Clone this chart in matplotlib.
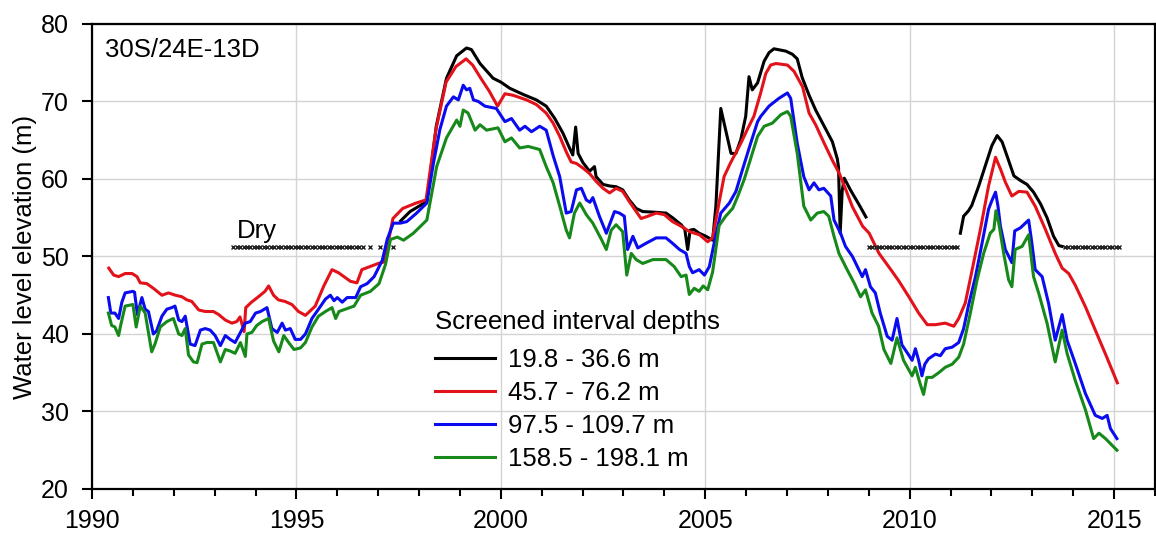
import matplotlib
matplotlib.use('Agg')
from matplotlib import pyplot as plt
from matplotlib.ticker import MultipleLocator

plt.rcParams['font.family'] = ['Liberation Sans', 'DejaVu Sans']

# 45.7 - 76.2 m
red_years = [1990.41, 1990.53, 1990.65, 1990.81, 1990.98, 1991.10, 1991.18, 1991.34, 1991.50, 1991.71,
             1991.87, 1992.04, 1992.20, 1992.32, 1992.44, 1992.61, 1992.77, 1992.97, 1993.10, 1993.26,
             1993.42, 1993.54, 1993.62, 1993.72, 1993.76, 1993.90, 1994.07, 1994.23, 1994.32, 1994.44,
             1994.56, 1994.72, 1994.89, 1995.05, 1995.22, 1995.46, 1995.67, 1995.87, 1996.03, 1996.32,
             1996.48, 1996.60, 1996.80, 1997.00, 1997.15, 1997.36, 1997.60, 1997.93, 1998.17, 1998.41,
             1998.66, 1998.90, 1999.15, 1999.31, 1999.51, 1999.72, 1999.92, 2000.10, 2000.30, 2000.63,
             2000.87, 2001.11, 2001.28, 2001.44, 2001.60, 2001.72, 2001.85, 2002.01, 2002.17, 2002.33,
             2002.50, 2002.66, 2002.82, 2002.98, 2003.14, 2003.31, 2003.43, 2003.60, 2003.80, 2004.00,
             2004.20, 2004.41, 2004.62, 2004.86, 2005.06, 2005.18, 2005.34, 2005.46, 2005.62, 2005.87,
             2006.03, 2006.19, 2006.35, 2006.48, 2006.60, 2006.73, 2007.01, 2007.17, 2007.38, 2007.54,
             2007.70, 2007.91, 2008.11, 2008.28, 2008.44, 2008.60, 2008.85, 2009.01, 2009.25, 2009.54,
             2009.74, 2009.98, 2010.22, 2010.43, 2010.63, 2010.87, 2011.08, 2011.20, 2011.36, 2011.53,
             2011.73, 2011.93, 2012.10, 2012.22, 2012.34, 2012.50, 2012.67, 2012.87, 2013.07, 2013.32,
             2013.56, 2013.73, 2013.89, 2014.05, 2014.30, 2014.54, 2014.79, 2015.08]
red_vals = [48.5, 47.6, 47.4, 47.8, 47.8, 47.4, 46.6, 46.5, 45.9, 45.0,
            45.3, 45.0, 44.8, 44.4, 44.2, 43.1, 42.9, 42.9, 42.5, 41.8,
            41.4, 41.6, 42.2, 40.3, 43.4, 44.1, 44.8, 45.5, 46.2, 45.0,
            44.4, 44.2, 43.8, 42.9, 42.4, 43.6, 46.2, 48.3, 47.9, 46.8,
            46.6, 48.3, 48.7, 49.1, 49.3, 54.9, 56.2, 56.9, 57.3, 66.3,
            72.5, 74.5, 75.5, 74.7, 73.0, 71.3, 69.4, 71.0, 70.8, 70.2,
            69.6, 68.5, 67.2, 65.5, 63.5, 62.2, 62.0, 61.4, 60.7, 59.7,
            58.8, 58.2, 58.8, 58.4, 57.1, 55.8, 54.9, 55.2, 55.6, 55.4,
            54.5, 53.9, 53.2, 52.8, 51.9, 52.4, 57.0, 60.3, 62.1, 64.6,
            66.4, 68.1, 71.0, 73.6, 74.7, 74.9, 74.7, 73.9, 71.9, 68.5,
            67.0, 64.6, 62.4, 60.7, 58.6, 56.4, 53.9, 53.0, 50.4, 48.3,
            46.8, 44.8, 42.7, 41.2, 41.2, 41.4, 41.0, 42.0, 44.0, 48.3,
            53.5, 59.1, 62.8, 61.3, 59.6, 57.8, 58.4, 58.3, 56.5, 53.5,
            50.4, 48.5, 47.8, 46.3, 43.5, 40.5, 37.4, 33.7]

# 97.5 - 109.7 m
blue_years = [1990.40, 1990.46, 1990.56, 1990.65, 1990.73, 1990.81, 1991.00, 1991.04, 1991.11, 1991.22,
              1991.30, 1991.38, 1991.50, 1991.58, 1991.71, 1991.83, 1991.95, 1992.03, 1992.12, 1992.20,
              1992.28, 1992.40, 1992.52, 1992.65, 1992.77, 1992.89, 1993.01, 1993.14, 1993.26, 1993.38,
              1993.50, 1993.63, 1993.75, 1993.87, 1994.00, 1994.12, 1994.28, 1994.40, 1994.53, 1994.65,
              1994.73, 1994.85, 1994.97, 1995.10, 1995.22, 1995.38, 1995.54, 1995.71, 1995.83, 1995.92,
              1996.00, 1996.12, 1996.24, 1996.45, 1996.57, 1996.73, 1996.90, 1997.10, 1997.22, 1997.37,
              1997.54, 1997.70, 1997.94, 1998.19, 1998.35, 1998.51, 1998.67, 1998.84, 1998.96, 1999.08,
              1999.16, 1999.24, 1999.33, 1999.45, 1999.61, 1999.89, 2000.10, 2000.26, 2000.46, 2000.59,
              2000.75, 2000.95, 2001.11, 2001.28, 2001.44, 2001.60, 2001.72, 2001.85, 2001.97, 2002.09,
              2002.18, 2002.25, 2002.41, 2002.58, 2002.78, 2002.90, 2003.02, 2003.10, 2003.23, 2003.35,
              2003.55, 2003.80, 2004.04, 2004.20, 2004.37, 2004.53, 2004.61, 2004.69, 2004.85, 2004.98,
              2005.10, 2005.26, 2005.38, 2005.59, 2005.75, 2005.91, 2006.11, 2006.28, 2006.36, 2006.56,
              2006.80, 2007.01, 2007.09, 2007.25, 2007.41, 2007.54, 2007.66, 2007.78, 2007.90, 2008.07,
              2008.15, 2008.31, 2008.43, 2008.60, 2008.72, 2008.84, 2008.92, 2009.04, 2009.16, 2009.28,
              2009.45, 2009.57, 2009.69, 2009.81, 2009.95, 2010.06, 2010.14, 2010.22, 2010.30, 2010.37,
              2010.46, 2010.63, 2010.75, 2010.87, 2011.04, 2011.20, 2011.32, 2011.44, 2011.61, 2011.77,
              2011.93, 2012.01, 2012.10, 2012.16, 2012.22, 2012.34, 2012.50, 2012.57, 2012.71, 2012.91,
              2012.99, 2013.07, 2013.24, 2013.40, 2013.56, 2013.73, 2013.85, 2014.05, 2014.30, 2014.54,
              2014.71, 2014.83, 2014.91, 2015.07]
blue_vals = [44.7, 42.7, 42.7, 42.0, 44.1, 45.3, 45.5, 45.4, 42.5, 44.7,
             43.2, 42.9, 40.0, 40.4, 42.3, 43.2, 43.4, 43.6, 41.8, 41.6,
             42.3, 38.7, 38.5, 40.5, 40.7, 40.5, 39.8, 38.5, 39.8, 39.3,
             38.9, 40.2, 41.4, 41.6, 42.7, 42.9, 43.4, 40.7, 40.2, 41.4,
             40.5, 40.7, 39.3, 39.3, 40.0, 42.0, 43.2, 44.5, 45.0, 44.3,
             44.7, 44.1, 44.7, 44.7, 46.1, 46.5, 47.4, 49.5, 52.2, 54.3,
             54.3, 54.5, 55.6, 56.9, 62.0, 66.4, 69.4, 70.6, 70.2, 72.1,
             71.5, 71.7, 70.2, 70.0, 69.4, 69.1, 67.4, 67.8, 66.3, 66.8,
             66.1, 66.8, 66.3, 63.0, 60.3, 55.6, 55.8, 58.6, 58.8, 57.3,
             57.0, 57.6, 55.2, 53.0, 55.8, 55.6, 55.2, 50.9, 52.6, 51.1,
             51.7, 52.4, 52.4, 51.7, 50.9, 50.4, 48.7, 47.9, 48.3, 47.6,
             48.7, 52.8, 55.6, 56.9, 58.4, 61.2, 64.6, 67.4, 68.1, 69.4,
             70.4, 71.1, 70.4, 64.6, 60.3, 58.6, 59.5, 58.6, 58.8, 57.8,
             54.7, 53.0, 51.3, 50.0, 48.7, 47.4, 48.3, 46.1, 45.3, 42.7,
             39.7, 39.2, 42.0, 38.6, 37.5, 36.6, 38.1, 36.6, 34.6, 36.1,
             36.8, 37.4, 37.2, 38.1, 38.3, 38.9, 40.7, 43.7, 47.4, 51.7,
             56.1, 57.2, 58.3, 56.5, 53.9, 50.9, 49.2, 53.3, 53.7, 54.7,
             51.7, 48.3, 47.4, 43.9, 39.2, 42.5, 39.2, 36.2, 32.3, 29.5,
             29.1, 29.5, 27.8, 26.5]

# 158.5 - 198.1 m
green_years = [1990.40, 1990.48, 1990.56, 1990.65, 1990.70, 1990.81, 1991.00, 1991.08, 1991.18, 1991.30,
               1991.46, 1991.54, 1991.67, 1991.83, 1991.99, 1992.12, 1992.20, 1992.28, 1992.36, 1992.48,
               1992.57, 1992.69, 1992.81, 1992.97, 1993.14, 1993.26, 1993.38, 1993.50, 1993.63, 1993.75,
               1993.79, 1993.91, 1994.03, 1994.16, 1994.32, 1994.44, 1994.57, 1994.69, 1994.81, 1994.94,
               1995.10, 1995.22, 1995.38, 1995.54, 1995.71, 1995.87, 1995.96, 1996.04, 1996.20, 1996.41,
               1996.57, 1996.81, 1997.02, 1997.18, 1997.30, 1997.47, 1997.62, 1997.86, 1998.19, 1998.43,
               1998.67, 1998.92, 1999.00, 1999.08, 1999.20, 1999.37, 1999.49, 1999.65, 1999.93, 2000.10,
               2000.26, 2000.46, 2000.67, 2000.95, 2001.11, 2001.28, 2001.44, 2001.60, 2001.68, 2001.80,
               2001.93, 2002.09, 2002.25, 2002.46, 2002.58, 2002.70, 2002.82, 2002.98, 2003.08, 2003.19,
               2003.31, 2003.47, 2003.72, 2004.04, 2004.24, 2004.41, 2004.53, 2004.61, 2004.73, 2004.85,
               2004.95, 2005.06, 2005.18, 2005.34, 2005.50, 2005.67, 2005.79, 2005.95, 2006.15, 2006.28,
               2006.44, 2006.64, 2006.85, 2007.01, 2007.09, 2007.25, 2007.41, 2007.58, 2007.74, 2007.90,
               2008.02, 2008.15, 2008.27, 2008.47, 2008.64, 2008.80, 2008.92, 2009.08, 2009.24, 2009.37,
               2009.54, 2009.69, 2009.85, 2010.06, 2010.14, 2010.26, 2010.34, 2010.42, 2010.55, 2010.71,
               2010.87, 2011.04, 2011.20, 2011.32, 2011.48, 2011.65, 2011.81, 2011.97, 2012.06, 2012.11,
               2012.18, 2012.30, 2012.42, 2012.50, 2012.58, 2012.75, 2012.91, 2013.03, 2013.16, 2013.36,
               2013.56, 2013.73, 2013.85, 2014.05, 2014.30, 2014.50, 2014.63, 2014.79, 2015.07]
green_vals = [42.7, 41.1, 40.9, 39.8, 41.1, 43.6, 43.8, 40.9, 43.6, 42.7,
              37.7, 38.7, 40.9, 41.6, 42.0, 40.0, 39.8, 40.7, 37.3, 36.4,
              36.3, 38.7, 38.9, 38.9, 36.4, 38.0, 37.8, 37.5, 38.9, 37.1,
              40.0, 40.2, 41.1, 41.6, 42.0, 39.1, 37.7, 39.8, 38.9, 38.0,
              38.2, 38.9, 40.9, 42.3, 42.9, 43.4, 42.0, 42.9, 43.2, 43.6,
              45.0, 45.5, 46.5, 49.0, 52.2, 52.5, 52.1, 53.0, 54.7, 61.6,
              65.3, 67.6, 66.8, 68.9, 68.5, 66.3, 67.0, 66.3, 66.6, 64.8,
              65.3, 64.0, 64.2, 63.8, 61.6, 59.5, 56.5, 53.4, 52.4, 55.6,
              56.9, 55.4, 54.3, 52.2, 50.9, 53.4, 54.1, 53.2, 47.6, 50.4,
              49.6, 49.1, 49.6, 49.6, 48.7, 47.4, 47.6, 45.1, 45.9, 45.5,
              46.2, 45.7, 48.0, 54.0, 55.2, 56.2, 57.7, 59.9, 63.3, 65.5,
              66.8, 67.2, 68.3, 68.7, 68.1, 63.3, 56.5, 54.7, 55.6, 55.8,
              55.2, 52.6, 50.4, 48.3, 46.6, 44.8, 45.7, 42.7, 41.0, 38.0,
              36.2, 39.5, 36.6, 34.6, 35.7, 33.5, 32.2, 34.4, 34.4, 35.0,
              35.7, 36.1, 37.0, 38.7, 42.6, 47.0, 50.4, 53.0, 53.5, 55.9,
              54.3, 50.4, 47.0, 46.1, 50.9, 51.3, 52.8, 47.4, 45.2, 41.4,
              36.4, 40.5, 37.5, 34.0, 30.2, 26.5, 27.2, 26.5, 25.0]

# 19.8 - 36.6 m (two wet periods)
black1_years = [1997.55, 1997.78, 1998.19, 1998.42, 1998.67, 1998.92, 1999.16, 1999.28, 1999.49, 1999.81,
                2000.00, 2000.22, 2000.55, 2000.87, 2001.11, 2001.32, 2001.52, 2001.68, 2001.76, 2001.83,
                2001.89, 2002.01, 2002.17, 2002.29, 2002.33, 2002.50, 2002.66, 2002.82, 2002.98, 2003.14,
                2003.31, 2003.47, 2003.80, 2004.04, 2004.20, 2004.41, 2004.50, 2004.57, 2004.63, 2004.72,
                2004.85, 2005.02, 2005.18, 2005.26, 2005.38, 2005.50, 2005.63, 2005.75, 2005.87, 2005.99,
                2006.07, 2006.15, 2006.28, 2006.44, 2006.56, 2006.68, 2006.97, 2007.13, 2007.25, 2007.37,
                2007.54, 2007.70, 2007.90, 2008.11, 2008.23, 2008.26, 2008.30, 2008.35, 2008.40, 2008.55,
                2008.76, 2008.93]
black1_vals = [54.6, 55.8, 57.1, 66.8, 73.0, 75.9, 76.9, 76.7, 74.9, 73.0,
               72.5, 71.7, 70.9, 70.2, 69.4, 67.8, 65.9, 64.0, 63.1, 66.7,
               63.3, 62.1, 61.0, 61.6, 60.3, 59.3, 59.1, 59.0, 58.6, 57.3,
               56.2, 55.8, 55.7, 55.6, 55.0, 54.1, 53.5, 50.9, 53.4, 53.5,
               53.0, 52.6, 52.1, 56.5, 69.1, 66.3, 63.3, 63.3, 65.1, 68.1,
               73.2, 71.5, 72.4, 75.2, 76.3, 76.8, 76.5, 76.1, 75.5, 73.1,
               70.8, 68.9, 66.9, 64.8, 62.6, 61.5, 53.0, 58.5, 60.1, 58.6,
               56.7, 55.1]
black2_years = [2011.24, 2011.32, 2011.44, 2011.52, 2011.69, 2011.85, 2012.01, 2012.14, 2012.26, 2012.38,
                2012.55, 2012.71, 2012.87, 2013.03, 2013.20, 2013.36, 2013.52, 2013.65, 2013.73]
black2_vals = [53.0, 55.2, 55.9, 56.6, 59.1, 61.7, 64.3, 65.6, 64.8, 63.0,
               60.4, 59.8, 59.3, 58.3, 56.8, 55.0, 52.6, 51.4, 51.3]

# shallow well dry (monthly readings)
dry_years = [1993.46, 1993.54, 1993.62, 1993.71, 1993.79, 1993.87, 1993.96, 1994.04, 1994.12, 1994.21,
             1994.29, 1994.37, 1994.46, 1994.54, 1994.62, 1994.71, 1994.79, 1994.87, 1994.96, 1995.04,
             1995.12, 1995.21, 1995.29, 1995.37, 1995.46, 1995.54, 1995.62, 1995.71, 1995.79, 1995.87,
             1995.96, 1996.04, 1996.12, 1996.21, 1996.29, 1996.37, 1996.46, 1996.54, 1996.62, 1996.79,
             1997.04, 1997.37,
             2009.00, 2009.08, 2009.17, 2009.25, 2009.33, 2009.42, 2009.50, 2009.58, 2009.67, 2009.75,
             2009.83, 2009.92, 2010.00, 2010.08, 2010.17, 2010.25, 2010.33, 2010.42, 2010.50, 2010.58,
             2010.67, 2010.75, 2010.83, 2010.92, 2011.00, 2011.08, 2011.17,
             2013.79, 2013.87, 2013.96, 2014.04, 2014.12, 2014.21, 2014.29, 2014.37, 2014.46, 2014.54,
             2014.62, 2014.71, 2014.79, 2014.87, 2014.96, 2015.04, 2015.12]
dry_level = 51.2

labels = ['19.8 - 36.6 m', '45.7 - 76.2 m', '97.5 - 109.7 m', '158.5 - 198.1 m']
colors = ['#000000', '#e3121a', '#0b0bef', '#17891b']

fig = plt.figure(figsize=(11.56, 5.39), dpi=100)
ax = fig.add_axes([0.0796, 0.0928, 0.9195, 0.8627])

lw = 2.2
h_black, = ax.plot(black1_years, black1_vals, color=colors[0], lw=lw, label=labels[0])
ax.plot(black2_years, black2_vals, color=colors[0], lw=lw)
h_red, = ax.plot(red_years, red_vals, color=colors[1], lw=lw, label=labels[1])
h_blue, = ax.plot(blue_years, blue_vals, color=colors[2], lw=lw, label=labels[2])
h_green, = ax.plot(green_years, green_vals, color=colors[3], lw=lw, label=labels[3])
ax.plot(dry_years, [dry_level] * len(dry_years), ls='none', marker='x',
        ms=3.2, mew=1.0, color='#222222')

ax.set_xlim(1990, 2016)
ax.set_ylim(20, 80)
ax.xaxis.set_major_locator(MultipleLocator(5))
ax.xaxis.set_minor_locator(MultipleLocator(1))
ax.yaxis.set_major_locator(MultipleLocator(10))
ax.grid(True, which='major', color='#d4d4d4', lw=1.0)
ax.set_axisbelow(True)
ax.tick_params(which='major', direction='out', length=7, width=1.5, labelsize=18)
ax.tick_params(axis='x', which='major', pad=7.5)
ax.tick_params(axis='y', which='major', pad=9.5)
ax.tick_params(which='minor', direction='out', length=5, width=1.5)
for s in ax.spines.values():
    s.set_linewidth(1.6)

ax.set_ylabel('Water level elevation (m)', fontsize=18.5, labelpad=3)
ax.text(0.0122, 0.929, '30S/24E-13D', transform=ax.transAxes, fontsize=18.5,
        va='baseline', ha='left')
ax.text(1993.54, 52.4, 'Dry', fontsize=18.5, va='baseline', ha='left')

ax.text(0.3227, 0.359, 'Screened interval depths', transform=ax.transAxes,
        fontsize=18.5, va='center', ha='left')
ax.legend(handles=[h_black, h_red, h_blue, h_green],
          loc='upper left', bbox_to_anchor=(0.3227, 0.304), frameon=False,
          fontsize=18.5, borderpad=0, borderaxespad=0, handlelength=2.33,
          handletextpad=0.5, labelspacing=0.36)

fig.savefig('out.png', dpi=100)
